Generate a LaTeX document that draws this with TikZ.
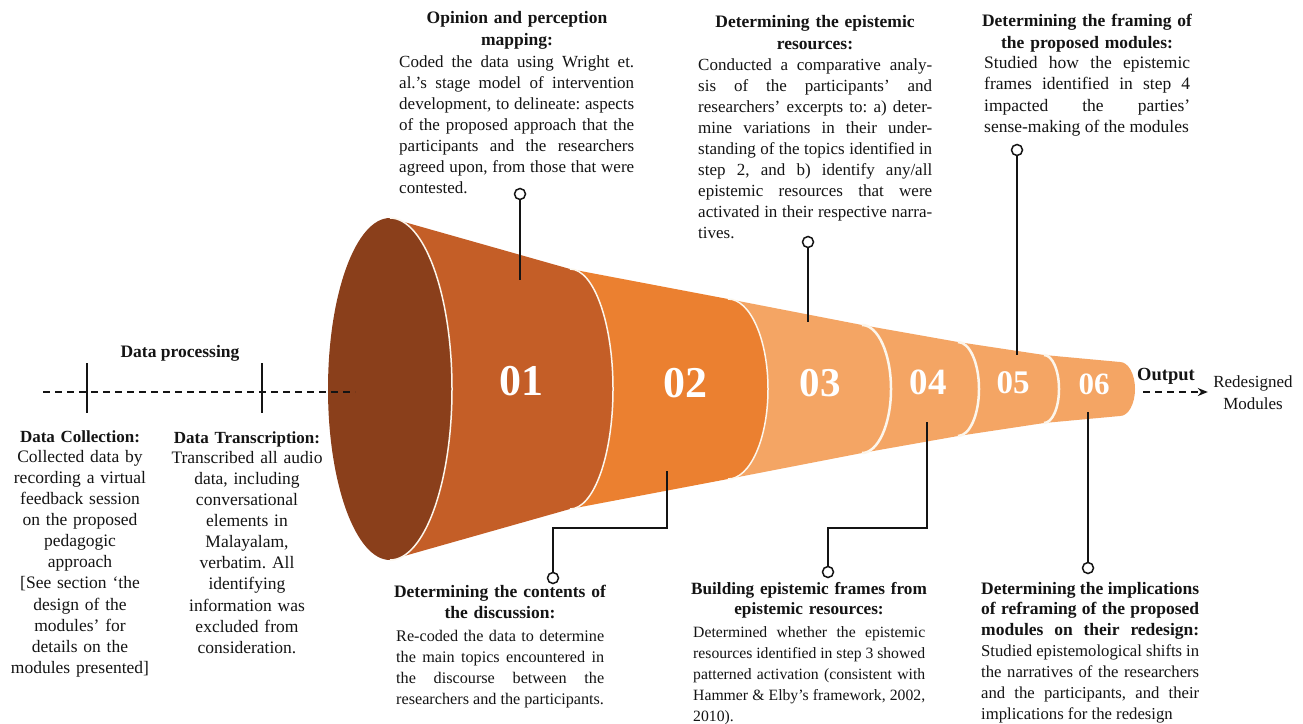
\documentclass[tikz,border=0pt]{standalone}
\usepackage{fontspec}
\setmainfont{Liberation Serif}
\usetikzlibrary{arrows.meta}
\frenchspacing

\definecolor{mouthbrown}{RGB}{138,63,27}
\definecolor{rust}{RGB}{196,94,39}
\definecolor{tangerine}{RGB}{235,128,48}
\definecolor{peach}{RGB}{244,165,100}
\definecolor{rimwhite}{RGB}{252,246,236}
\definecolor{ink}{RGB}{20,20,20}

% one justified line, and one line at its natural width (used inside \vtop)
\newcommand\jline[1]{\hbox to\hsize{#1}}
\newcommand\nline[1]{\hbox{#1}}
% a block of such lines, first baseline at the node's base
\newcommand\lines[2]{\vtop{\hsize=#1 #2}}

% funnel segment: left corner x / half height, right corner x / half height, bulge, colour
\newcommand\hornseg[6]{%
  \fill[#6] ({#1},{389-#2}) -- ({#3},{389-#4})
    .. controls ({#3+0.5523*#5},{389-#4}) and ({#3+#5},{389-0.5523*#4}) .. ({#3+#5},389)
    .. controls ({#3+#5},{389+0.5523*#4}) and ({#3+0.5523*#5},{389+#4}) .. ({#3},{389+#4})
    -- ({#1},{389+#2}) -- cycle;}
% light rim along the right-hand curve of a segment
\newcommand\rimarc[4]{%
  \draw[rimwhite, line width=#4] ({#1},{389-#2})
    .. controls ({#1+0.5523*#3},{389-#2}) and ({#1+#3},{389-0.5523*#2}) .. ({#1+#3},389)
    .. controls ({#1+#3},{389+0.5523*#2}) and ({#1+0.5523*#3},{389+#2}) .. ({#1},{389+#2});}

\begin{document}
\begin{tikzpicture}[x=1pt,y=-1pt,
  every node/.style={inner sep=0pt, text=ink},
  num/.style={text=white, font=\bfseries\fontsize{#1}{#1}\selectfont},
  knob/.style={circle, draw=ink, fill=white, line width=1.5pt, minimum size=11pt},
  stem/.style={draw=ink, line width=1.6pt},
  dashline/.style={draw=ink, line width=1.4pt, dash pattern=on 7pt off 5pt},
  tick/.style={draw=ink, line width=1.8pt},
  head/.style={anchor=base, align=center, font=\bfseries\fontsize{17.5}{22}\selectfont},
  body/.style={anchor=base west},
  side/.style={anchor=base, align=center, text width=165pt, font=\fontsize{17.5}{21.15}\selectfont},
]
\useasboundingbox (0,0) rectangle (1303,723);
\fill[white] (0,0) rectangle (1303,723);

% ---- funnel, narrow end first so each wider segment overlaps the next ----
\hornseg{1044}{34}{1120}{27}{15}{peach}
\hornseg{958}{47}{1044}{34}{15}{peach}
\rimarc{1044}{34}{15}{2.5}
\hornseg{862}{64}{958}{47}{21}{peach}
\rimarc{958}{47}{21}{2.5}
\hornseg{728}{90}{862}{64}{29}{peach}
\rimarc{862}{64}{29}{2.5}
\hornseg{570}{120}{728}{90}{40}{tangerine}
\rimarc{728}{90}{40}{1.5}
\hornseg{390}{171}{570}{120}{43}{rust}
\rimarc{570}{120}{43}{1.5}
\fill[mouthbrown] (390,389) ellipse [x radius=62, y radius=171];
\rimarc{390}{171}{62}{1.5}

% ---- step numbers ----
\node[num=44] (n01) at (521,381) {01};
\node[num=44] (n02) at (685,383) {02};
\node[num=41] (n03) at (820,383) {03};
\node[num=37] (n04) at (928,382) {04};
\node[num=33] (n05) at (1013,383) {05};
\node[num=31] (n06) at (1094,384) {06};

% ---- leaders from the segments to the descriptions ----
\node[knob] (c1) at (520,194) {};
\coordinate (e1) at (520,280);
\draw[stem] (c1.south) -- (e1);

\node[knob] (c3) at (808,242) {};
\coordinate (e3) at (808,322);
\draw[stem] (c3.south) -- (e3);

\node[knob] (c5) at (1017,150) {};
\coordinate (e5) at (1017,355);
\draw[stem] (c5.south) -- (e5);

\node[knob] (c2) at (553,578) {};
\coordinate (e2) at (667,471);
\coordinate (k2) at (553,528);
\draw[stem] (e2) |- (k2) -- (c2.north);

\node[knob] (c4) at (828,572) {};
\coordinate (e4) at (927,422);
\coordinate (k4) at (828,528);
\draw[stem] (e4) |- (k4) -- (c4.north);

\node[knob] (c6) at (1088,568) {};
\coordinate (e6) at (1088,412);
\draw[stem] (e6) -- (c6.north);

% ---- data processing timeline ----
\node[anchor=base, font=\bfseries\fontsize{17.5}{21}\selectfont] (dp) at (180,357) {Data processing};
\coordinate (dl) at (43,392);
\coordinate (dr) at (355,392);
\draw[dashline] (dl) -- (dr);
\coordinate (t1a) at (87,363);  \coordinate (t1b) at (87,413);
\coordinate (t2a) at (262,363); \coordinate (t2b) at (262,413);
\draw[tick] (t1a) -- (t1b);
\draw[tick] (t2a) -- (t2b);

\node[side, font=\bfseries\fontsize{17}{21}\selectfont] (dch) at (80,442) {Data Collection:};
\node[side] (dcb) at (80,462) {Collected data by\\recording a virtual\\feedback session\\on the proposed\\pedagogic\\approach\\{[See section ‘the}\\design of the\\modules’ for\\details on the\\modules presented]};

\node[side, font=\bfseries\fontsize{17}{21}\selectfont] (dth) at (247,443) {Data Transcription:};
\node[side] (dtb) at (247,463) {Transcribed all audio\\data, including\\conversational\\elements in\\Malayalam,\\verbatim. All\\identifying\\information was\\excluded from\\consideration.};

% ---- output ----
\node[anchor=base, font=\bfseries\fontsize{18.5}{22}\selectfont] (out) at (1166,380) {Output};
\node[anchor=base, align=center, text width=90pt, font=\fontsize{17}{22}\selectfont] (red) at (1253,387) {Redesigned\\Modules};
\coordinate (a1) at (1143,392);
\draw[dashline, -{Stealth[length=10pt,width=8pt]}] (a1) -- (red.west |- a1);

% ---- step 1 ----
\node[head, text width=240pt] (h1) at (517,23) {Opinion and perception\\mapping:};
\node[body, font=\fontsize{17}{21}\selectfont] (b1) at (399,67) {\lines{235pt}{%
\jline{Coded the data using Wright et.}
\jline{al.’s stage model of intervention}
\jline{development, to delineate: aspects}
\jline{of the proposed approach that the}
\jline{participants and the researchers}
\jline{agreed upon, from those that were}
\nline{contested.}}};

% ---- step 3 ----
\node[head, text width=240pt] (h3) at (815,27) {Determining the epistemic\\resources:};
\node[body, font=\fontsize{17}{21}\selectfont] (b3) at (698,70) {\lines{234pt}{%
\jline{Conducted a comparative analy-}
\jline{sis of the participants’ and}
\jline{researchers’ excerpts to: a) deter-}
\jline{mine variations in their under-}
\jline{standing of the topics identified in}
\jline{step 2, and b) identify any/all}
\jline{epistemic resources that were}
\jline{activated in their respective narra-}
\nline{tives.}}};

% ---- step 5 ----
\node[head, text width=215pt] (h5) at (1087,26) {Determining the framing of\\the proposed modules:};
\node[body, font=\fontsize{17.5}{21.5}\selectfont] (b5) at (984,68) {\lines{206pt}{%
\jline{Studied how the epistemic}
\jline{frames identified in step 4}
\jline{impacted the parties’}
\nline{sense-making of the modules}}};

% ---- step 2 ----
\node[head, text width=215pt, font=\bfseries\fontsize{17.5}{21}\selectfont] (h2) at (500,597) {Determining the contents of\\the discussion:};
\node[body, font=\fontsize{16.2}{21}\selectfont] (b2) at (396,641) {\lines{208pt}{%
\jline{Re-coded the data to determine}
\jline{the main topics encountered in}
\jline{the discourse between the}
\nline{researchers and the participants.}}};

% ---- step 4 ----
\node[head, text width=240pt, font=\bfseries\fontsize{17.2}{20.5}\selectfont] (h4) at (809,594) {Building epistemic frames from\\epistemic resources:};
\node[body, font=\fontsize{15.7}{21}\selectfont] (b4) at (693,637) {\lines{232pt}{%
\jline{Determined whether the epistemic}
\jline{resources identified in step 3 showed}
\jline{patterned activation (consistent with}
\jline{Hammer \& Elby’s framework, 2002,}
\nline{2010).}}};

% ---- step 6 ----
\node[body, font=\bfseries\fontsize{17.5}{20.7}\selectfont] (h6) at (981,594) {\lines{218pt}{%
\jline{Determining the implications}
\jline{of reframing of the proposed}
\jline{modules on their redesign:}}};
\node[body, font=\fontsize{16.7}{21}\selectfont] (b6) at (981,656) {\lines{218pt}{%
\jline{Studied epistemological shifts in}
\jline{the narratives of the researchers}
\jline{and the participants, and their}
\nline{implications for the redesign}}};
\end{tikzpicture}
\end{document}
